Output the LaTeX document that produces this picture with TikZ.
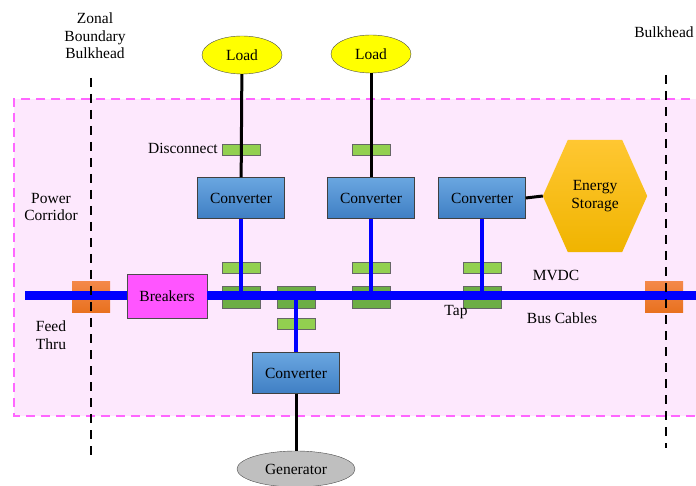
\documentclass[tikz,border=0pt]{standalone}
\usepackage{fontspec}
\setmainfont{Liberation Serif}
\usetikzlibrary{shapes.geometric,calc}
\definecolor{zonefill}{HTML}{FDE8FD}
\definecolor{zonedash}{HTML}{FF66FF}
\definecolor{convtop}{HTML}{6AA6E0}
\definecolor{convbot}{HTML}{3F7FC4}
\definecolor{discgreen}{HTML}{92D050}
\definecolor{tapgreen}{HTML}{6DAE45}
\definecolor{feedtop}{HTML}{F4884A}
\definecolor{feedbot}{HTML}{E8711E}
\definecolor{storetop}{HTML}{FFC732}
\definecolor{storebot}{HTML}{F0B400}
\definecolor{brkfill}{HTML}{FF55FF}
\definecolor{loadfill}{HTML}{FFFF00}
\begin{document}
\begin{tikzpicture}[x=1pt,y=-1pt,
   font=\fontsize{15.5}{17.5}\selectfont,
   every node/.style={inner sep=0pt,align=center},
   load/.style={ellipse,draw=black!70,fill=loadfill,minimum width=80pt,minimum height=38pt},
   gen/.style={ellipse,draw=black!70,fill=black!25,minimum width=118pt,minimum height=36pt},
   conv/.style={draw=black!75,top color=convtop,bottom color=convbot,minimum width=87pt,minimum height=41pt},
   disc/.style={draw=black!60,fill=discgreen,minimum width=38pt,minimum height=11pt},
   tap/.style={draw=black!60,fill=tapgreen,minimum width=38pt,minimum height=22pt},
   feed/.style={top color=feedtop,bottom color=feedbot,minimum width=38pt,minimum height=31pt},
   brk/.style={draw=black!70,fill=brkfill,minimum width=80pt,minimum height=44pt},
   bus/.style={blue,line width=9pt},
   feeder/.style={blue,line width=4pt},
   wire/.style={black,line width=3pt},
   bulkhead/.style={black,line width=2.5pt,dash pattern=on 9pt off 7pt}]
\clip (0,0) rectangle (696,486);
\useasboundingbox (0,0) rectangle (696,486);
\fill[zonefill] (14,99) rectangle (720,416);
\draw[zonedash,line width=1.5pt,dash pattern=on 9pt off 6pt] (720,99) -- (14,99) -- (14,416) -- (720,416);

\node (lbh) at (95,36) {Zonal\\Boundary\\Bulkhead};
\node (rbh) at (664,32) {Bulkhead};
\node (pc) at (51,207) {Power\\Corridor};
\node (ft) at (51,335) {Feed\\Thru};

\node[feed] (ftl) at (91,297) {};
\node[feed] (ftr) at (664,297) {};

\node[load] (load1) at (242,55) {Load};
\node[load] (load2) at (371,54) {Load};
\node[conv] (conv1) at (241,198) {Converter};
\node[conv] (conv2) at (371,198) {Converter};
\node[conv] (conv3) at (482,198) {Converter};
\node[conv] (conv4) at (296,373) {Converter};
\node[gen] (gen) at (296,469) {Generator};
\node[minimum width=104pt,minimum height=112pt] (store) at (595,196) {Energy\\Storage};
\shade[top color=storetop,bottom color=storebot] (store.west)
   -- ($(store.north west)!0.24!(store.north east)$) -- ($(store.north west)!0.76!(store.north east)$)
   -- (store.east)
   -- ($(store.south west)!0.76!(store.south east)$) -- ($(store.south west)!0.24!(store.south east)$) -- cycle;
\node at (store) {Energy\\Storage};

\node[disc] (dis1) at (241,150) {};
\node[disc] (dis2) at (371,150) {};
\node[anchor=east] (distxt) at (218,148) {Disconnect};

\node[disc] (sw1) at (241,268) {};
\node[disc] (sw2) at (371,268) {};
\node[disc] (sw3) at (482,268) {};
\node[disc] (sw4) at (296,324) {};

\node[tap] (tap1) at (241,297) {};
\node[tap] (tap2) at (296,297) {};
\node[tap] (tap3) at (371,297) {};
\node[tap] (tap4) at (482,297) {};
\node[brk] (brk) at (167,296) {Breakers};

\coordinate (busl) at (25,296);
\coordinate (busr) at (700,296);
\draw[bus] (busl) -- (brk.west);
\draw[bus] (brk.east) -- (busr);

\draw[wire] (load1) -- (conv1);
\draw[wire] (load2) -- (conv2);
\draw[wire] (conv3.east) -- (store.west);
\draw[wire] (conv4) -- (gen);
\draw[feeder] (conv1.south) -- (tap1.center);
\draw[feeder] (conv2.south) -- (tap3.center);
\draw[feeder] (conv3.south) -- (tap4.center);
\draw[feeder] (tap2.center) -- (conv4.north);

\node (mvdc) at (556,275) {MVDC};
\node (taptxt) at (456,312) {Tap};
\node (bustxt) at (562,318) {Bus Cables};

\coordinate (lbhtop) at (91,78);
\coordinate (lbhbot) at (91,456);
\coordinate (rbhtop) at (666,75);
\coordinate (rbhbot) at (666,448);
\draw[bulkhead] (lbhtop) -- (lbhbot);
\draw[bulkhead] (rbhtop) -- (rbhbot);
\end{tikzpicture}
\end{document}
